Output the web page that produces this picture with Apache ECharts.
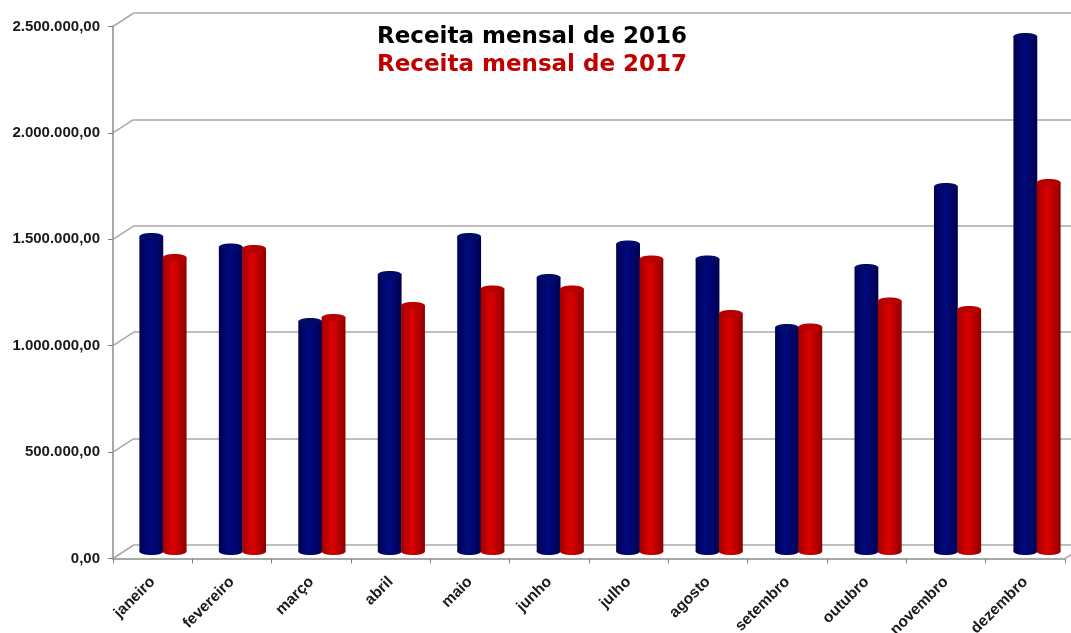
<!DOCTYPE html>
<html><head><meta charset="utf-8">
<style>html,body{margin:0;padding:0;background:#fff}#c{width:1071px;height:633px}</style>
<script src="https://cdn.jsdelivr.net/npm/echarts@6/dist/echarts.min.js"></script>
</head><body><div id="c"></div>
<script>
const months = ['janeiro','fevereiro','março','abril','maio','junho','julho','agosto','setembro','outubro','novembro','dezembro'];
const receita2016 = [1480000,1431000,1081000,1302000,1480000,1288000,1445000,1375000,1053000,1335000,1715000,2420000];
const receita2017 = [1382000,1424000,1100000,1156000,1234000,1234000,1375000,1118000,1055000,1177000,1137000,1734000];
const yTicks = [0,500000,1000000,1500000,2000000,2500000];

const GREY = '#a8a8a8';
const fmt = v => String(v).replace(/\B(?=(\d{3})+$)/g,'.') + ',00';
const cyl = (side, edge, mid, edge2, cap) => (params, api) => {
  const band = api.size([1,0])[0];
  const w = band * 0.3;
  const c = api.coord([api.value(0), api.value(1)]);
  const b = api.coord([api.value(0), 0]);
  const x = side < 0 ? c[0] - w : c[0] - 0.5;
  const ry = 3.5;
  const grad = {type:'linear',x:0,y:0,x2:1,y2:0,colorStops:[
    {offset:0,color:edge},{offset:.45,color:mid},{offset:1,color:edge2}]};
  return {type:'group',children:[
    {type:'ellipse',shape:{cx:x+w/2,cy:b[1],rx:w/2,ry:ry},style:{fill:grad}},
    {type:'rect',shape:{x:x,y:c[1],width:w,height:b[1]-c[1]},style:{fill:grad}},
    {type:'ellipse',shape:{cx:x+w/2,cy:c[1],rx:w/2,ry:ry},style:{fill:cap}}
  ]};
};
const chart = echarts.init(document.getElementById('c'),null,{renderer:'canvas'});
chart.setOption({
  animation:false,
  backgroundColor:'#fff',
  legend:{
    orient:'vertical',left:367,top:21,itemGap:5,itemWidth:0,itemHeight:0,icon:'none',selectedMode:false,
    textStyle:{fontFamily:'DejaVu Sans',fontWeight:'bold',fontSize:23},
    data:[{name:'Receita mensal de 2016',textStyle:{color:'#000'}},
          {name:'Receita mensal de 2017',textStyle:{color:'#c00000'}}]
  },
  grid:[
    {left:113,top:26.5,width:952,height:532,outerBoundsMode:'none'},
    {left:133,top:13,width:952,height:532,outerBoundsMode:'none'},
    {left:123.5,top:19.5,width:953.5,height:532,outerBoundsMode:'none'}
  ],
  xAxis:[
    {gridIndex:0,type:'category',data:months,boundaryGap:true,
      axisLine:{lineStyle:{color:GREY,width:2}},
      axisTick:{show:true,length:5,alignWithLabel:false,lineStyle:{color:'#808080',width:1}},
      axisLabel:{interval:0,rotate:45,margin:21,color:'#1a1a1a',fontFamily:'Liberation Sans',fontWeight:'bold',fontSize:15.5}},
    {gridIndex:1,type:'category',data:months,show:false},
    {gridIndex:2,type:'category',data:months,show:false}
  ],
  yAxis:[
    {gridIndex:0,type:'value',min:0,max:2500000,interval:500000,
      axisLine:{show:true,lineStyle:{color:GREY,width:2}},
      axisTick:{show:true,length:5,lineStyle:{color:'#808080',width:1}},
      splitLine:{show:false},
      axisLabel:{margin:13,color:'#1a1a1a',fontFamily:'Liberation Sans',fontWeight:'bold',fontSize:15,formatter:fmt}},
    {gridIndex:1,type:'value',min:0,max:2500000,interval:500000,
      axisLine:{show:false},axisTick:{show:false},axisLabel:{show:false},
      splitLine:{show:true,lineStyle:{color:GREY,width:1.5}}},
    {gridIndex:2,type:'value',min:0,max:2500000,interval:500000,show:false,splitLine:{show:false}}
  ],
  series:[
    {type:'custom',name:'depth',xAxisIndex:0,yAxisIndex:0,silent:true,z:1,clip:false,
      data:yTicks.map(v=>[0,v]).concat([[months.length-1,0]]),encode:{x:0,y:1},
      renderItem:(p,api)=>{
        const a=api.coord([api.value(0),api.value(1)]), half=api.size([1,0])[0]/2;
        const x0=a[0]+(api.value(0)===0?-half:half);
        return {type:'line',shape:{x1:x0,y1:a[1],x2:x0+20,y2:a[1]-13},style:{stroke:GREY,lineWidth:1.5}};
      }},
    {type:'custom',name:'Receita mensal de 2016',xAxisIndex:2,yAxisIndex:2,z:3,clip:false,
      data:receita2016.map((v,i)=>[i,v]),encode:{x:0,y:1},
      itemStyle:{color:'#000'},
      renderItem:cyl(-1,'#00004e','#000a80','#00004e','#000a6a')},
    {type:'custom',name:'Receita mensal de 2017',xAxisIndex:2,yAxisIndex:2,z:4,clip:false,
      data:receita2017.map((v,i)=>[i,v]),encode:{x:0,y:1},
      itemStyle:{color:'#c00000'},
      renderItem:cyl(1,'#a00000','#de0000','#8c0000','#b80000')}
  ]
});
</script></body></html>
